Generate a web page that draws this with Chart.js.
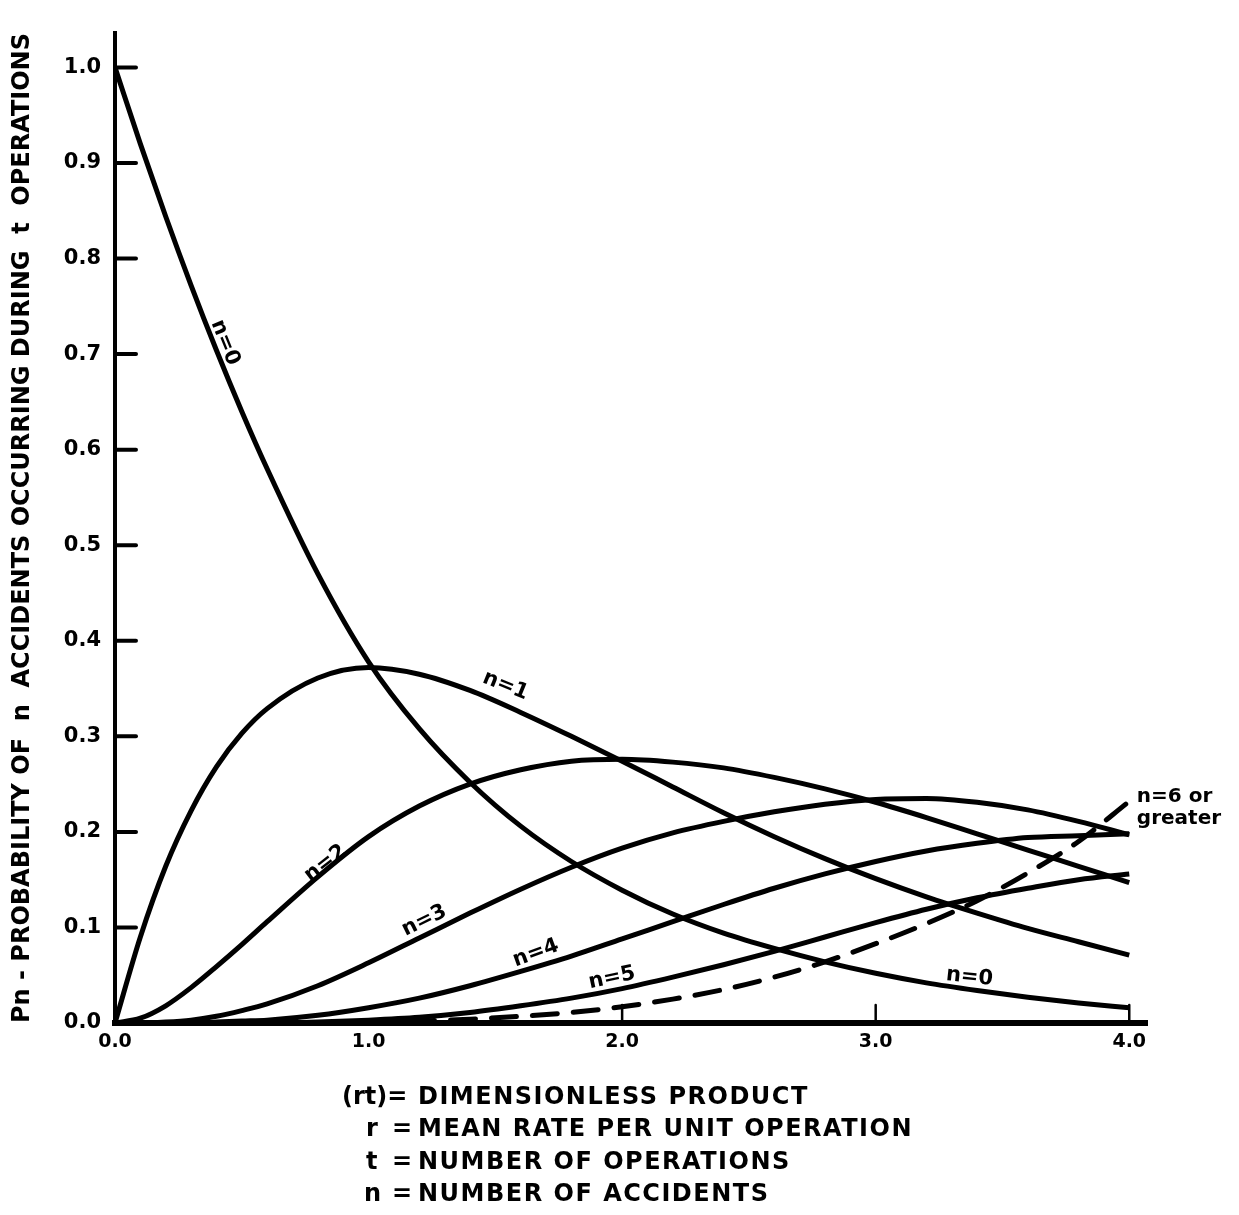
<!DOCTYPE html>
<html>
<head>
<meta charset="utf-8">
<script src="https://cdn.jsdelivr.net/npm/chart.js@4.4.1/dist/chart.umd.min.js"></script>
<style>
  body { margin: 0; background: #fff; }
  #wrap { position: relative; width: 1239px; height: 1215px; }
  #myChart { position: absolute; left: 0; top: 0; }
  .row { position: absolute; left: 0; height: 32px; line-height: 32px;
         font: bold 24px "DejaVu Sans"; color: #000; white-space: pre; }
  .row span { position: absolute; top: 0; }
  .txt { left: 418px; letter-spacing: 1.5px; }
</style>
</head>
<body>
<div id="wrap">
  <canvas id="myChart" width="1239" height="1215"></canvas>
  <div class="row" style="top:1082px"><span style="left:342px">(rt)=</span><span class="txt">DIMENSIONLESS PRODUCT</span></div>
  <div class="row" style="top:1114px"><span style="left:366px">r</span><span style="left:392px">=</span><span class="txt">MEAN RATE PER UNIT OPERATION</span></div>
  <div class="row" style="top:1147px"><span style="left:366px">t</span><span style="left:392px">=</span><span class="txt">NUMBER OF OPERATIONS</span></div>
  <div class="row" style="top:1179px"><span style="left:364px">n</span><span style="left:392px">=</span><span class="txt">NUMBER OF ACCIDENTS</span></div>
</div>
<script>
// (rt) values where the curves were read
const rt = [0, 0.1, 0.2, 0.3, 0.4, 0.5, 0.6, 0.8, 1.0, 1.2, 1.4, 1.6, 1.8, 2.0,
            2.2, 2.4, 2.6, 2.8, 3.0, 3.2, 3.4, 3.6, 3.8, 4.0];

// probability of n accidents
const pn0 = [1.000, 0.920, 0.844, 0.772, 0.704, 0.640, 0.580, 0.470, 0.378, 0.308, 0.252, 0.206,
             0.169, 0.139, 0.114, 0.094, 0.078, 0.064, 0.052, 0.042, 0.034, 0.027, 0.021, 0.016];
const pn1 = [0, 0.090, 0.164, 0.222, 0.268, 0.303, 0.329, 0.361, 0.372, 0.365, 0.348, 0.325,
             0.300, 0.274, 0.247, 0.220, 0.195, 0.172, 0.151, 0.132, 0.115, 0.099, 0.085, 0.071];
const pn2 = [0, 0.005, 0.018, 0.037, 0.059, 0.082, 0.106, 0.153, 0.195, 0.227, 0.250, 0.265,
             0.274, 0.276, 0.273, 0.267, 0.257, 0.245, 0.231, 0.215, 0.198, 0.181, 0.164, 0.147];
const pn3 = [0, 0, 0.001, 0.003, 0.007, 0.013, 0.020, 0.039, 0.063, 0.089, 0.115, 0.140,
             0.163, 0.183, 0.199, 0.211, 0.221, 0.229, 0.234, 0.235, 0.231, 0.223, 0.211, 0.197];
const pn4 = [0, 0, 0, 0, 0.001, 0.002, 0.003, 0.008, 0.016, 0.026, 0.039, 0.054,
             0.070, 0.088, 0.106, 0.124, 0.141, 0.156, 0.169, 0.180, 0.188, 0.194, 0.196, 0.198];
const pn5 = [0, 0, 0, 0, 0, 0, 0, 0.001, 0.003, 0.006, 0.011, 0.018,
             0.026, 0.036, 0.048, 0.061, 0.075, 0.090, 0.105, 0.119, 0.131, 0.141, 0.150, 0.156];
// n = 6 or greater (dashed), only drawn from rt = 1.0
const pn6 = [null, null, null, null, null, null, null, null, 0.000, 0.002, 0.004, 0.007,
             0.011, 0.017, 0.025, 0.035, 0.048, 0.064, 0.083, 0.104, 0.128, 0.157, 0.190, 0.232];

const yTickMarks = [0.1, 0.2, 0.3, 0.4, 0.5, 0.6, 0.7, 0.8, 0.9, 1.0];
const xTickMarks = [2.0, 3.0, 4.0];

const curveLabels = [
    { text: 'n=0', x: 0.434, y: 0.712, rot: 68 },
    { text: 'n=1', x: 1.54, y: 0.353, rot: 22 },
    { text: 'n=2', x: 0.83, y: 0.167, rot: -38 },
    { text: 'n=3', x: 1.22, y: 0.107, rot: -26 },
    { text: 'n=4', x: 1.66, y: 0.073, rot: -20 },
    { text: 'n=5', x: 1.96, y: 0.047, rot: -12 },
    { text: 'n=0', x: 3.37, y: 0.048, rot: 6 },
    { text: 'n=6 or', x: 4.03, y: 0.237, rot: 0, align: 'left' },
    { text: 'greater', x: 4.03, y: 0.214, rot: 0, align: 'left' }
];

function points(vals) {
    return rt.map(function (x, i) { return { x: x, y: vals[i] }; });
}

function curve(vals, dashed) {
    return {
        data: points(vals),
        borderColor: '#000',
        borderWidth: 5,
        pointRadius: 0,
        fill: false,
        cubicInterpolationMode: 'monotone',
        borderCapStyle: dashed ? 'round' : 'butt',
        borderDash: dashed ? [25, 16] : []
    };
}

const font = 'DejaVu Sans';

const chartMarks = {
    id: 'chartMarks',
    afterDatasetsDraw(chart) {
        const ctx = chart.ctx;
        const xs = chart.scales.x, ys = chart.scales.y;
        const area = chart.chartArea;
        ctx.save();
        ctx.strokeStyle = '#000';
        ctx.lineCap = 'round';
        // inward tick marks
        ctx.lineWidth = 4;
        yTickMarks.forEach(function (v) {
            const y = ys.getPixelForValue(v);
            ctx.beginPath();
            ctx.moveTo(area.left, y);
            ctx.lineTo(area.left + 21, y);
            ctx.stroke();
        });
        ctx.lineWidth = 2.5;
        xTickMarks.forEach(function (v) {
            const x = xs.getPixelForValue(v);
            ctx.beginPath();
            ctx.moveTo(x, area.bottom);
            ctx.lineTo(x, area.bottom - 18);
            ctx.stroke();
        });
        // labels along the curves
        ctx.fillStyle = '#000';
        ctx.textBaseline = 'middle';
        curveLabels.forEach(function (l) {
            ctx.save();
            ctx.translate(xs.getPixelForValue(l.x), ys.getPixelForValue(l.y));
            ctx.rotate(l.rot * Math.PI / 180);
            ctx.font = 'bold ' + (l.align ? 20 : 21) + 'px "' + font + '"';
            ctx.textAlign = l.align || 'center';
            ctx.fillText(l.text, 0, 0);
            ctx.restore();
        });
        ctx.restore();
    }
};

const ctx = document.getElementById('myChart');

new Chart(ctx, {
    type: 'line',
    data: {
        datasets: [
            curve(pn0), curve(pn1), curve(pn2), curve(pn3),
            curve(pn4), curve(pn5), curve(pn6, true)
        ]
    },
    options: {
        responsive: false,
        animation: false,
        layout: { padding: { top: 33, right: 92, left: 0, bottom: 0 } },
        plugins: {
            legend: { display: false },
            tooltip: { enabled: false }
        },
        scales: {
            x: {
                type: 'linear',
                min: 0,
                max: 4.07,
                afterFit: function (s) { s.height = 192; },
                grid: { display: true, drawOnChartArea: false, drawTicks: false },
                border: { color: '#000', width: 6 },
                ticks: {
                    stepSize: 1,
                    includeBounds: false,
                    maxRotation: 0,
                    padding: 8,
                    color: '#000',
                    font: { family: font, weight: 'bold', size: 19 },
                    callback: function (v) { return v.toFixed(1); }
                }
            },
            y: {
                type: 'linear',
                min: 0,
                max: 1.036,
                afterFit: function (s) { s.width = 115; },
                grid: { display: true, drawOnChartArea: false, drawTicks: false },
                border: { color: '#000', width: 4 },
                ticks: {
                    stepSize: 0.1,
                    includeBounds: false,
                    padding: 14,
                    color: '#000',
                    font: { family: font, weight: 'bold', size: 21 },
                    callback: function (v) { return v.toFixed(1); }
                },
                title: {
                    display: true,
                    text: 'Pn - PROBABILITY OF  n  ACCIDENTS OCCURRING DURING  t  OPERATIONS',
                    color: '#000',
                    font: { family: font, weight: 'bold', size: 24 },
                    padding: { top: 8, bottom: 0 }
                }
            }
        }
    },
    plugins: [chartMarks]
});
</script>
</body>
</html>
